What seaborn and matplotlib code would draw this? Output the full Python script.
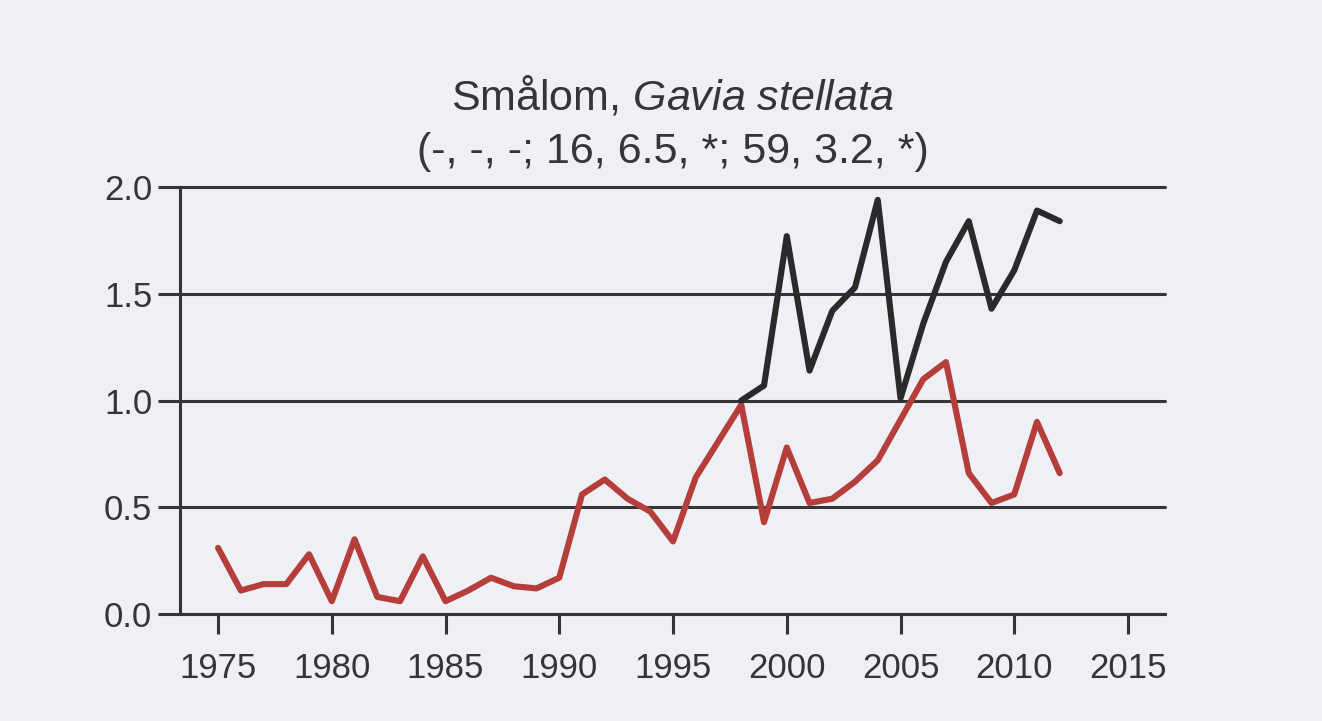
import numpy as np
import pandas as pd
import seaborn as sns
import matplotlib
matplotlib.use("Agg")
import matplotlib.pyplot as plt

# values
years_red = list(range(1975, 2013))
red_vals = [0.31, 0.11, 0.14, 0.14, 0.28, 0.06, 0.35, 0.08, 0.06, 0.27,
            0.06, 0.11, 0.17, 0.13, 0.12, 0.17, 0.56, 0.63, 0.54, 0.48,
            0.34, 0.64, 0.81, 0.98, 0.43, 0.78, 0.52, 0.54, 0.62, 0.72,
            0.91, 1.10, 1.18, 0.66, 0.52, 0.56, 0.90, 0.66]
years_black = list(range(1998, 2013))
black_vals = [1.00, 1.07, 1.77, 1.14, 1.42, 1.53, 1.94, 1.01, 1.36, 1.65,
              1.84, 1.43, 1.61, 1.89, 1.84]

x_ticks = [1975, 1980, 1985, 1990, 1995, 2000, 2005, 2010, 2015]
y_ticks = [0.0, 0.5, 1.0, 1.5, 2.0]
title_common = "Smålom"
title_latin = "Gavia stellata"
title_stats = "(-, -, -; 16, 6.5, *; 59, 3.2, *)"

bg = "#eef0f6"
ink = "#353535"
red = "#b53d3a"
black = "#2a2a2a"

sns.set_style("white")
plt.rcParams['font.family'] = ['Liberation Sans', 'DejaVu Sans']
plt.rcParams['mathtext.fontset'] = 'custom'
plt.rcParams['mathtext.rm'] = 'Liberation Sans'
plt.rcParams['mathtext.it'] = 'Liberation Sans:italic'

df = pd.concat([
    pd.DataFrame({'year': years_red, 'value': red_vals, 'series': 'red'}),
    pd.DataFrame({'year': years_black, 'value': black_vals, 'series': 'black'}),
])

fig = plt.figure(figsize=(13.22, 7.21), dpi=100, facecolor=bg)
ax = fig.add_axes([0.1362, 0.1484, 0.8813 - 0.1362, 0.7406 - 0.1484])
ax.set_facecolor(bg)

sns.lineplot(data=df, x='year', y='value', hue='series',
             palette={'red': red, 'black': black}, hue_order=['red', 'black'],
             linewidth=4.4, legend=False, ax=ax)

ax.set_xlim(1973.33, 2016.63)
ax.set_ylim(0, 2.0)
ax.set_xticks(x_ticks)
ax.set_yticks(y_ticks)
ax.set_yticklabels([f"{v:.1f}" for v in y_ticks])
ax.set_xlabel("")
ax.set_ylabel("")

ax.grid(axis='y', color=ink, linewidth=2.2)
ax.grid(axis='x', visible=False)
for gl in ax.yaxis.get_gridlines():
    gl.set_clip_on(False)
ax.set_axisbelow(True)

for s in ['top', 'right']:
    ax.spines[s].set_visible(False)
for s in ['left', 'bottom']:
    ax.spines[s].set_color(ink)
    ax.spines[s].set_linewidth(2.2)

ax.tick_params(axis='y', direction='out', length=16, width=2.2, color=ink,
               pad=4, labelsize=25, labelcolor=ink, left=True)
ax.tick_params(axis='x', direction='out', length=14.4, width=2.2, color=ink,
               pad=13, labelsize=25, labelcolor=ink, bottom=True)

latin = title_latin.replace(' ', '\\ ')
ax.set_title(f"{title_common}, $\\mathit{{{latin}}}$\n{title_stats}",
             fontsize=31, color=ink, linespacing=1.45, pad=17)

fig.savefig("out.png", dpi=100, facecolor=bg)
